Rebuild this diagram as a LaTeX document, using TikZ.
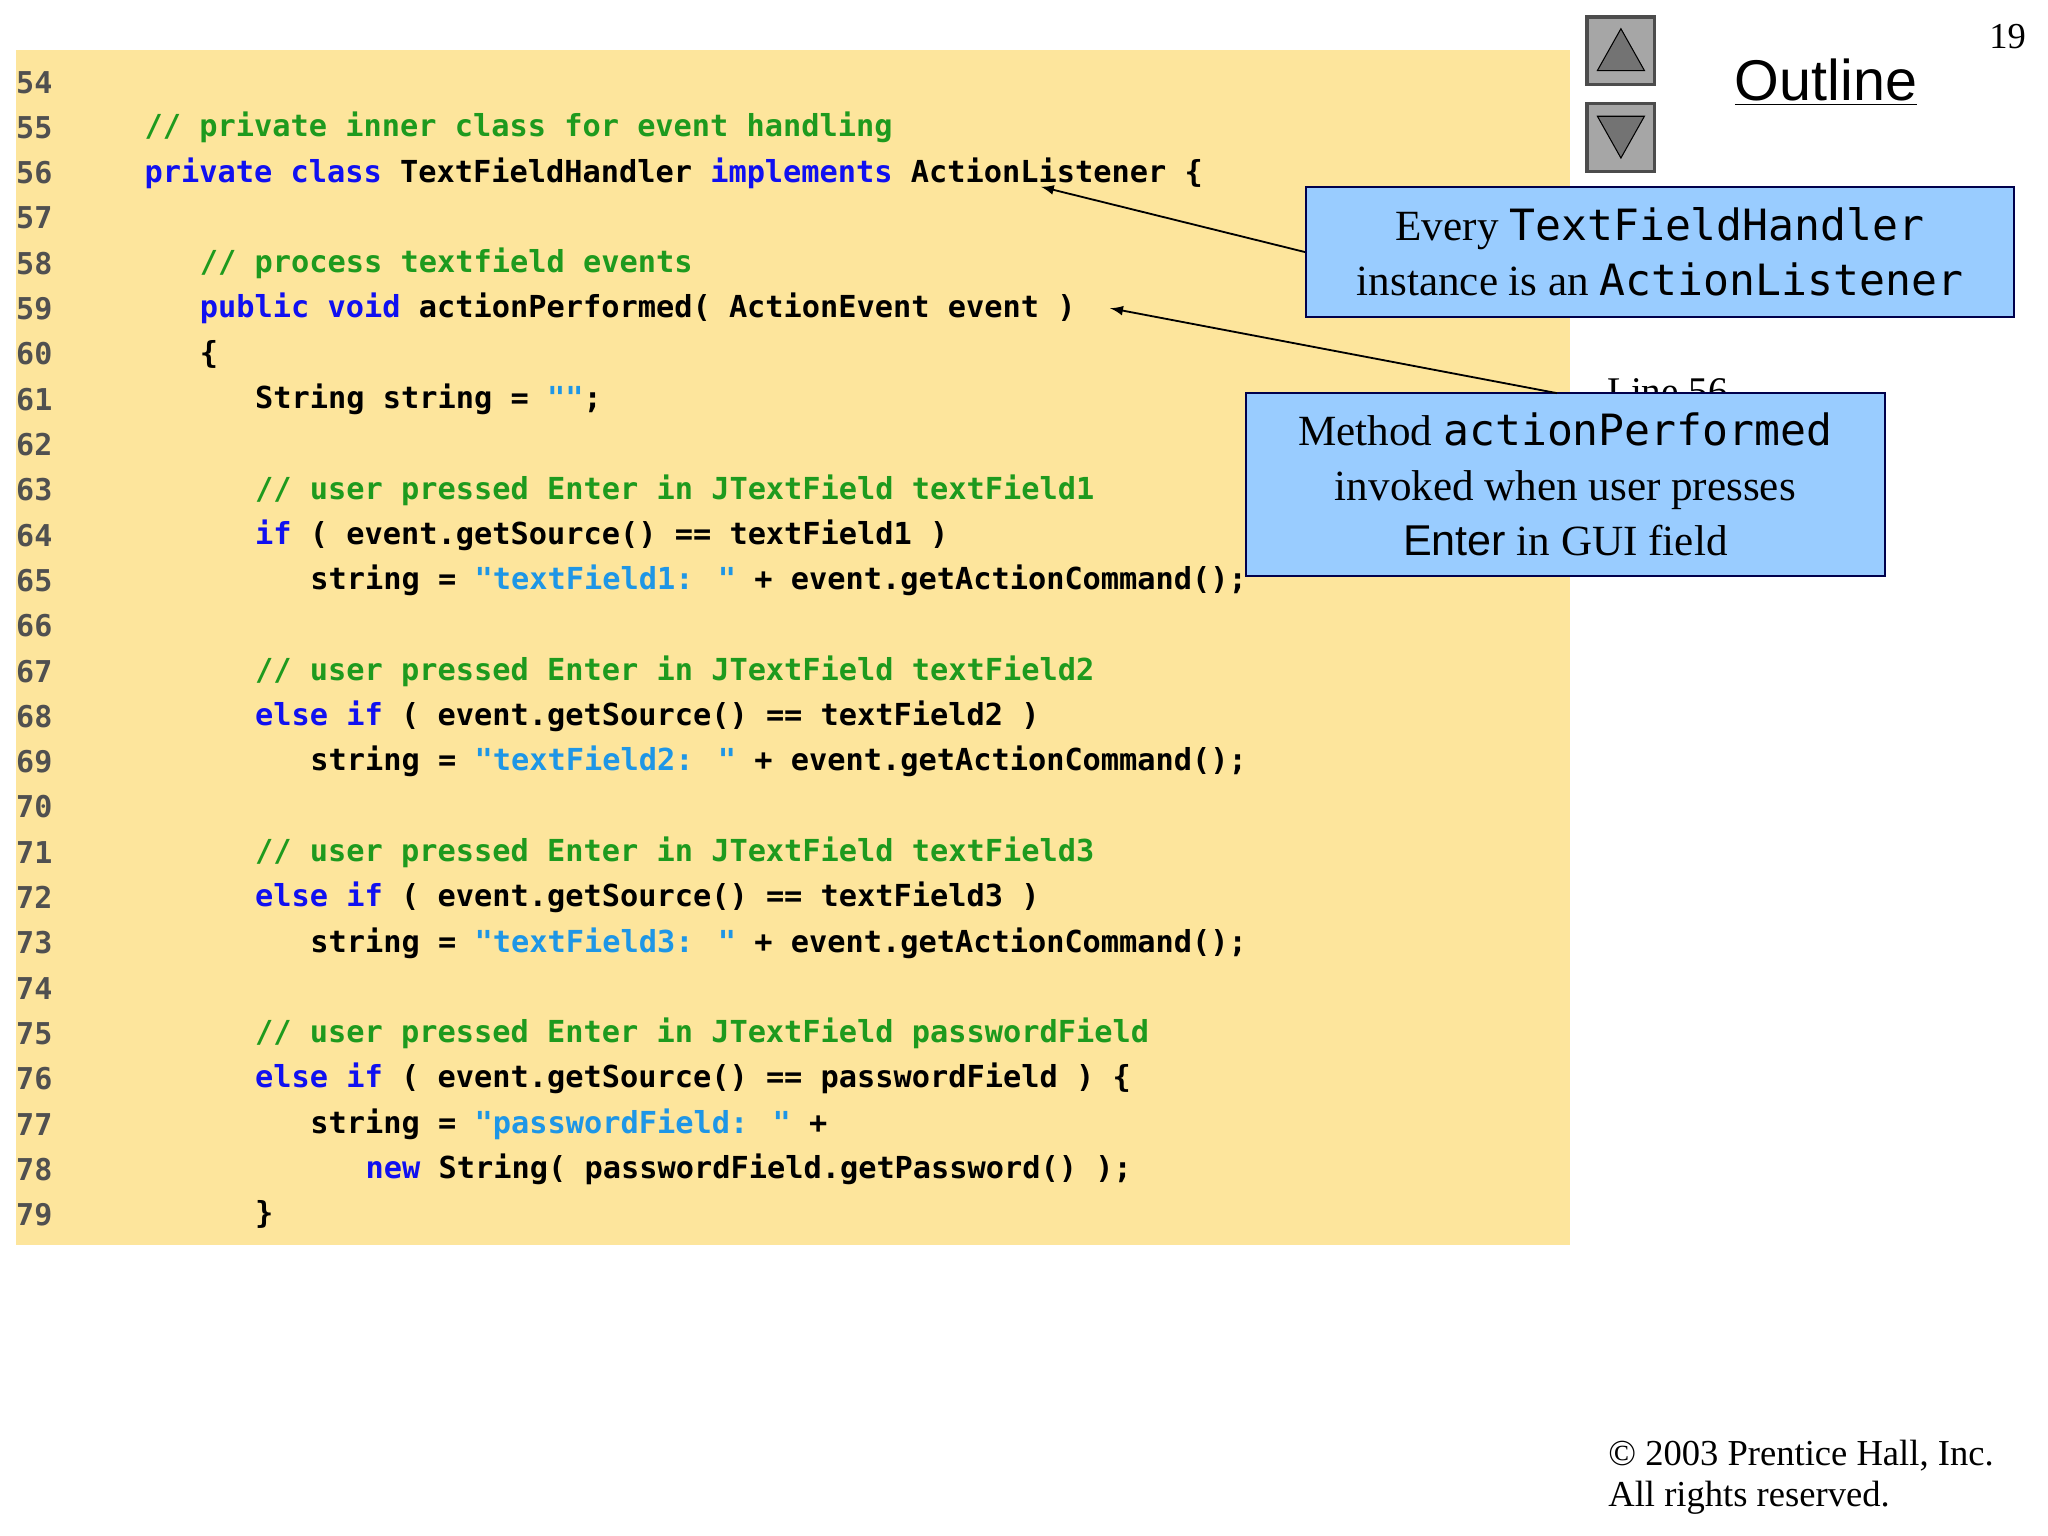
\documentclass[tikz,border=0pt]{standalone}
\usepackage{fontspec}
\setmainfont{Liberation Serif}
\newfontfamily\codefont{DejaVu Sans Mono}
\newfontfamily\sansf{Liberation Sans}
\definecolor{codebg}{HTML}{FDE59C}
\definecolor{kwc}{HTML}{1010F0}
\definecolor{cmc}{HTML}{1E9A1E}
\definecolor{stc}{HTML}{1E96E6}
\definecolor{lnc}{HTML}{505050}
\definecolor{boxc}{HTML}{99CCFF}
\newcommand{\kw}[1]{\textcolor{kwc}{#1}}
\newcommand{\cm}[1]{\textcolor{cmc}{#1}}
\newcommand{\st}[1]{\textcolor{stc}{#1}}
\begin{document}
\begin{tikzpicture}[x=0.5pt,y=-0.5pt,
  ln/.style={anchor=west,inner sep=0,font=\codefont\fontsize{11.5}{13}\selectfont\bfseries,text=lnc},
  code/.style={anchor=west,inner sep=0,font=\codefont\fontsize{11.6}{13}\selectfont\bfseries},
  callout/.style={draw=black!70!blue,line width=0.8pt,fill=boxc,align=center,font=\fontsize{16.5}{21}\selectfont},
  cmono/.style={},
  arr/.style={-latex,line width=0.7pt},
  btn/.style={draw=black!70,line width=1.2pt,fill=black!35,minimum size=26pt,inner sep=0}]
\useasboundingbox (0,0) rectangle (1568,1176);
\fill[codebg] (12,38) rectangle (1202,953);
\def\dy{34.68}
\foreach \n [count=\i from 0] in {54,...,79}{
  \node[ln] (n\n) at (12,63+\i*\dy) {\n};
}
\newcommand{\cl}[3]{\node[code] (c#1) at ({54+14.1*#2},{63+(#1-54)*\dy}) {#3};}
\cl{55}{4}{\cm{// private inner class for event handling}}
\cl{56}{4}{\kw{private class} TextFieldHandler \kw{implements} ActionListener \{}
\cl{58}{7}{\cm{// process textfield events}}
\cl{59}{7}{\kw{public void} actionPerformed( ActionEvent event )}
\cl{60}{7}{\{}
\cl{61}{10}{String string = \st{""};}
\cl{63}{10}{\cm{// user pressed Enter in JTextField textField1}}
\cl{64}{10}{\kw{if} ( event.getSource() == textField1 )}
\cl{65}{13}{string = \st{"textField1: "} + event.getActionCommand();}
\cl{67}{10}{\cm{// user pressed Enter in JTextField textField2}}
\cl{68}{10}{\kw{else if} ( event.getSource() == textField2 )}
\cl{69}{13}{string = \st{"textField2: "} + event.getActionCommand();}
\cl{71}{10}{\cm{// user pressed Enter in JTextField textField3}}
\cl{72}{10}{\kw{else if} ( event.getSource() == textField3 )}
\cl{73}{13}{string = \st{"textField3: "} + event.getActionCommand();}
\cl{75}{10}{\cm{// user pressed Enter in JTextField passwordField}}
\cl{76}{10}{\kw{else if} ( event.getSource() == passwordField ) \{}
\cl{77}{13}{string = \st{"passwordField: "} +}
\cl{78}{16}{\kw{new} String( passwordField.getPassword() );}
\cl{79}{10}{\}}
% nav
\node[btn] (up) at (1241,39) {};
\node[btn] (down) at (1241,105) {};
\fill[black!55,draw=black] (1241,22) -- (1259,54) -- (1223,54) -- cycle;
\fill[black!55,draw=black] (1241,121) -- (1259,89) -- (1223,89) -- cycle;
\node[font=\sansf\fontsize{22}{26}\selectfont,inner sep=0] (outline) at (1398,63) {\underline{Outline}};
\node[font=\fontsize{14}{16}\selectfont,inner sep=0] (pg) at (1537,28) {19};
\node[anchor=west,font=\fontsize{15}{18}\selectfont,inner sep=0] (line56) at (1230,300) {Line 56};
% callouts
\node[callout,minimum width=271pt,minimum height=50pt] (b1) at (1271,193)
  {Every {\codefont TextFieldHandler}\\ instance is an {\codefont ActionListener}};
\node[callout,minimum width=244.5pt,minimum height=70pt] (b2) at (1198.5,371)
  {Method {\codefont actionPerformed}\\ invoked when user presses\\ {\sansf Enter} in GUI field};
\coordinate (t1) at (797,143);
\coordinate (t2) at (850,236);
\draw[arr] (b1.west) -- (t1);
\draw[arr] (1192,301) -- (t2);
\node[anchor=west,align=left,font=\fontsize{14}{16}\selectfont,inner sep=0] (copy) at (1231,1131)
  {\textcopyright{} 2003 Prentice Hall, Inc.\\All rights reserved.};
\end{tikzpicture}
\end{document}
